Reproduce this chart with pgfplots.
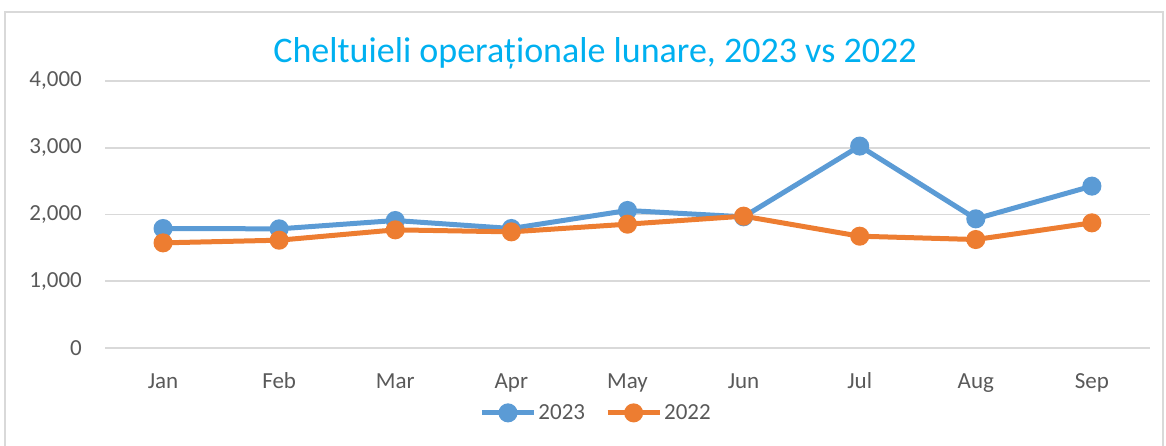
\documentclass[border=0pt]{standalone}
\usepackage{fontspec}
\setmainfont{Carlito}
\usepackage{pgfplots}
\pgfplotsset{compat=1.18}
\definecolor{c23}{HTML}{5B9BD5}
\definecolor{c22}{HTML}{ED7D31}
\definecolor{tc}{HTML}{595959}
\definecolor{gridc}{HTML}{D9D9D9}
\definecolor{titc}{HTML}{00B0F0}
\begin{document}
\begin{tikzpicture}[x=1pt,y=1pt]
\useasboundingbox (0,0) rectangle (1166,446);
\draw[gridc, line width=1.5pt] (5,0) -- (5,434) -- (1163,434) -- (1163,0);
\node[text=titc, font=\fontsize{36}{40}\selectfont] at (595,393) {Cheltuieli operaționale lunare, 2023 vs 2022};
\begin{axis}[
  at={(105pt,98pt)}, anchor=south west,
  scale only axis, width=1045pt, height=267pt,
  xmin=-0.5, xmax=8.5, ymin=0, ymax=4000,
  ytick={0,1000,2000,3000,4000},
  xtick={0,1,2,3,4,5,6,7,8},
  xticklabels={Jan,Feb,Mar,Apr,May,Jun,Jul,Aug,Sep},
  axis line style={draw=none},
  major tick length=0pt,
  ymajorgrids, grid style={gridc, line width=1.6pt},
  /pgf/number format/assume math mode=true,
  /pgf/number format/1000 sep={,},
  scaled y ticks=false,
  tick label style={text=tc, font=\fontsize{23}{26}\selectfont},
  yticklabel style={inner sep=0pt, anchor=east, xshift=-23pt},
  xticklabel style={inner sep=0pt, anchor=north, yshift=-24pt, text height=16pt, text depth=5pt},
  legend style={at={(0.47,-0.243)}, anchor=center, draw=none, fill=none,
    font=\fontsize{23}{26}\selectfont, text=tc, legend columns=2,
    /tikz/every even column/.append style={column sep=18pt}},
  legend image code/.code={
    \draw[line width=5pt] (0pt,0pt) -- (52pt,0pt);
    \fill (26pt,0pt) circle (7pt);
  },
]
\addplot[c23, line width=5pt, mark=*, mark size=7pt, mark options={fill=c23, draw=c23}] coordinates {
(0,1790) (1,1785) (2,1910) (3,1790) (4,2060) (5,1965) (6,3025) (7,1935) (8,2425)};
\addlegendentry{2023}
\addplot[c22, line width=5pt, mark=*, mark size=7pt, mark options={fill=c22, draw=c22}] coordinates {
(0,1575) (1,1615) (2,1770) (3,1740) (4,1855) (5,1975) (6,1675) (7,1625) (8,1875)};
\addlegendentry{2022}
\end{axis}
\end{tikzpicture}
\end{document}
